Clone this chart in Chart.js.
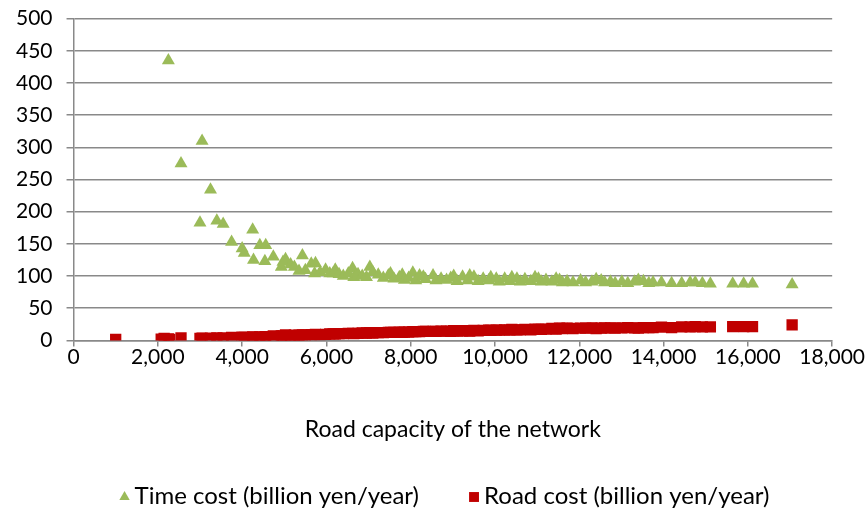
<!DOCTYPE html>
<html>
<head>
<meta charset="utf-8">
<script src="https://cdn.jsdelivr.net/npm/chart.js@4.4.1/dist/chart.umd.min.js"></script>
<style>
  html, body { margin: 0; padding: 0; background: #fff; }
  #wrap { width: 865px; height: 509px; position: relative; }
</style>
</head>
<body>
<div id="wrap"><canvas id="chart"></canvas></div>
<script>
// road capacity of each network (x)
const capacity = [
  1000, 2080, 2150, 2250, 2280, 2550, 3000, 3050, 3250, 3400,
  3550, 3750, 4000, 4050, 4250, 4270, 4420, 4540, 4560, 4740,
  4930, 4970, 5030, 5150, 5240, 5350, 5430, 5500, 5640, 5720,
  5740, 5850, 5980, 6080, 6160, 6210, 6300, 6400, 6520, 6620,
  6650, 6750, 6850, 6950, 7030, 7100, 7230, 7350, 7470, 7520,
  7600, 7730, 7800, 7850, 7950, 8050, 8120, 8210, 8300, 8350,
  8530, 8600, 8720, 8850, 8950, 9020, 9100, 9230, 9350, 9400,
  9500, 9600, 9720, 9850, 9900, 10030, 10100, 10230, 10350, 10400,
  10520, 10600, 10710, 10850, 10950, 11030, 11100, 11210, 11350, 11450,
  11530, 11600, 11710, 11850, 12030, 12150, 12300, 12400, 12520, 12600,
  12740, 12850, 13010, 13150, 13310, 13400, 13520, 13650, 13750, 13950,
  14190, 14430, 14630, 14750, 14920, 15110, 15640, 15900, 16110, 17050
]
// time cost (billion yen/year), null where off the chart
const timeCost = [
  null, null, null, 435, null, 275, 183, 310, 234, 186,
  181, 153, 143, 136, 172, 125, 148, 123, 148, 130,
  114, 122, 126, 118, 114, 108, 132, 109, 119, 104,
  120, 106, 110, 104, 104, 110, 103, 100, 104, 112,
  98, 103, 100, 98, 114, 106, 102, 97, 101, 104,
  96, 98, 102, 94, 97, 105, 93, 101, 99, 95,
  101, 93, 96, 94, 97, 100, 92, 99, 93, 101,
  99, 92, 96, 93, 98, 96, 91, 96, 92, 98,
  96, 91, 95, 92, 98, 96, 91, 94, 91, 96,
  94, 90, 92, 90, 93, 90, 91, 95, 93, 90,
  91, 89, 91, 89, 91, 94, 92, 89, 90, 90,
  89, 89, 90, 90, 89, 88, 88, 88, 88, 87
]
// road cost (billion yen/year)
const roadCost = [
  1.5, 2.0, 3.0, 2.5, 1.5, 4.0, 3.0, 3.5, 3.5, 4.0,
  4.0, 4.5, 5.0, 4.5, 5.5, 5.0, 5.5, 6.0, 5.5, 7.0,
  7.0, 7.0, 8.5, 7.5, 8.0, 8.0, 8.5, 8.5, 9.0, 9.0,
  9.5, 9.0, 9.5, 10.0, 10.0, 10.0, 10.5, 10.5, 11.0, 11.0,
  10.5, 11.0, 11.5, 11.5, 12.0, 11.5, 12.0, 12.0, 12.5, 12.5,
  12.5, 13.0, 12.5, 13.0, 13.0, 13.5, 13.5, 13.5, 14.0, 14.0,
  14.0, 14.0, 14.5, 14.5, 14.0, 15.0, 14.5, 15.0, 15.0, 14.5,
  15.5, 15.0, 15.5, 16.0, 15.5, 16.0, 16.0, 16.5, 16.0, 17.0,
  16.5, 16.5, 17.0, 16.5, 17.5, 17.0, 17.0, 17.5, 18.5, 17.5,
  19.0, 18.5, 19.0, 18.5, 19.0, 19.0, 19.5, 18.5, 19.0, 19.5,
  19.5, 19.0, 19.5, 20.0, 19.5, 19.0, 20.0, 20.0, 20.0, 20.5,
  20.0, 21.0, 21.0, 21.5, 21.0, 21.0, 21.5, 21.5, 21.5, 24.0
]
const xTicks = { min: 0, max: 18000, step: 2000 }
const yTicks = { min: 0, max: 500, step: 50 }

const toPoints = vals => capacity.map((x, i) => ({ x, y: vals[i] })).filter(p => p.y !== null)

const font = "Lato, 'Liberation Sans', sans-serif"
const axisGrey = '#898989'

// legend drawn under the axis title, items centred with a wide gap like the original
const bottomLegend = {
  id: 'bottomLegend',
  afterDraw(chart) {
    const ctx = chart.ctx
    const sets = chart.data.datasets
    ctx.save()
    ctx.font = `24px ${font}`
    ctx.textBaseline = 'middle'
    const box = 15, gap = 50
    const widths = sets.map(d => box + ctx.measureText(d.label).width)
    const total = widths.reduce((a, b) => a + b, 0) + gap * (sets.length - 1)
    let x = (chart.width - total) / 2 + 12
    const y = chart.height - 13
    sets.forEach((d, i) => {
      ctx.fillStyle = d.backgroundColor
      ctx.strokeStyle = d.backgroundColor
      Chart.helpers.drawPoint(ctx, { pointStyle: d.pointStyle, radius: d.pointStyle === 'rect' ? 7 : 6, borderWidth: 0 }, x + 5, y + 1)
      ctx.fillStyle = '#000'
      ctx.fillText(d.label, x + box, y)
      x += widths[i] + gap
    })
    ctx.restore()
  },
}

new Chart(document.getElementById('chart'), {
  type: 'scatter',
  data: {
    datasets: [
      {
        label: 'Time cost (billion yen/year)',
        data: toPoints(timeCost),
        pointStyle: 'triangle',
        pointRadius: 7.5,
        pointHoverRadius: 7.5,
        backgroundColor: '#9BBB59',
        borderColor: '#9BBB59',
        borderWidth: 0,
      },
      {
        label: 'Road cost (billion yen/year)',
        data: toPoints(roadCost),
        pointStyle: 'rect',
        pointRadius: 8,
        pointHoverRadius: 8,
        backgroundColor: '#C00000',
        borderColor: '#C00000',
        borderWidth: 0,
      },
    ],
  },
  plugins: [bottomLegend],
  options: {
    responsive: true,
    maintainAspectRatio: false,
    animation: false,
    layout: { padding: { left: 2, right: 24, top: 0, bottom: 66 } },
    plugins: {
      tooltip: { enabled: false },
      legend: { display: false },
    },
    scales: {
      x: {
        type: 'linear',
        min: xTicks.min,
        max: xTicks.max,
        ticks: { stepSize: xTicks.step, color: '#000', padding: 0, maxRotation: 0, font: { family: font, size: 21, lineHeight: 1.0 } },
        grid: { drawOnChartArea: false, drawTicks: true, tickLength: 6, color: axisGrey, lineWidth: 1.5 },
        border: { display: true, color: axisGrey, width: 1.5 },
        title: { display: true, text: 'Road capacity of the network', color: '#000', padding: { top: 48, bottom: 0 }, font: { family: font, size: 23 } },
      },
      y: {
        min: yTicks.min,
        max: yTicks.max,
        ticks: { stepSize: yTicks.step, color: '#000', padding: 14, font: { family: font, size: 21, lineHeight: 0.45 } },
        grid: { color: axisGrey, lineWidth: 1.5, tickLength: 7 },
        border: { display: true, color: axisGrey, width: 1.5 },
      },
    },
  },
})
</script>
</body>
</html>
